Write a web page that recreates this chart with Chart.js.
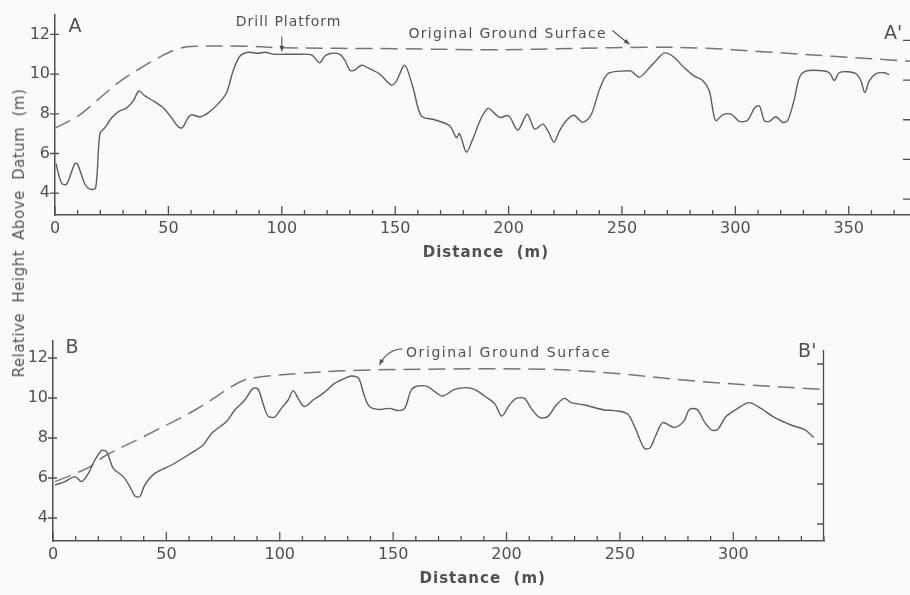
<!DOCTYPE html>
<html>
<head>
  <title>Relative Height Above Datum - Profiles A-A' and B-B'</title>
  <style>
    body{margin:0; background:#fafaf8; width:910px; height:595px; overflow:hidden; position:relative;}
    #chartA{position:absolute; left:0; top:0;}
    #chartB{position:absolute; left:0; top:300px;}
    #yTitle{position:absolute; left:19px; top:233px; transform:translate(-50%,-50%) rotate(-90deg);
            white-space:nowrap; font:15px 'DejaVu Sans'; color:#555; word-spacing:5px; letter-spacing:0.5px;}
  </style>
</head>
<body>
<canvas id="chartA" width="910" height="270"></canvas>
<canvas id="chartB" width="910" height="295"></canvas>
<div id="yTitle">Relative Height Above Datum (m)</div>

<script src="https://cdn.jsdelivr.net/npm/chart.js@4.4.0/dist/chart.umd.min.js"></script>
<script>
// ---------------- data: profile A - A' ----------------
var aDist = [0.4, 2.9, 5.1, 8.8, 10, 13.2, 15.4, 17.9, 19.8, 22, 25, 27.9, 31.6, 34.5, 37, 39.6, 44, 47.7, 51.4, 54.3,
  56.1, 58.7, 60.2, 63.9, 67.5, 71.9, 75.6, 78.5, 81.5, 85.2, 89.6, 92.5, 96.9, 101.3, 107.2, 113.1, 116.7, 118.9, 121.9, 125.6,
  127.8, 130, 132.2, 135.1, 138, 143.2, 148.3, 150.5, 154.2, 157.9, 161.5, 167.4, 174, 177, 178.4, 181.4, 184.3, 188, 190.9, 192.4,
  196, 200, 204.1, 208.2, 211.5, 215.1, 217.3, 220, 222.5, 225.4, 228.8, 232.7, 236.4, 240.1, 243.7, 249.6, 254, 257.7, 261.4, 265.8,
  268.7, 272.4, 277.5, 281.9, 285.6, 288.5, 290.4, 291.5, 294.4, 298.1, 301.8, 305.4, 308.4, 310.6, 312.8, 315, 317.9, 320.8, 323, 326,
  328.2, 331.1, 337, 341.4, 343.6, 345.8, 349.5, 353.2, 355.4, 357.1, 359, 362, 365.6, 367.8];
var aHeight = [5.5, 4.5, 4.45, 5.5, 5.45, 4.45, 4.2, 4.25, 7.0, 7.3, 7.8, 8.1, 8.3, 8.65, 9.15, 8.9, 8.6, 8.3, 7.8, 7.35,
  7.3, 7.8, 7.95, 7.85, 8.05, 8.5, 9.05, 10.15, 10.9, 11.1, 11.05, 11.1, 11.0, 11.0, 11.0, 10.97, 10.57, 10.9, 11.05, 11.0,
  10.7, 10.2, 10.2, 10.45, 10.32, 10.0, 9.45, 9.65, 10.45, 9.3, 7.9, 7.7, 7.4, 6.8, 7.0, 6.07, 6.75, 7.8, 8.28, 8.18,
  7.82, 7.9, 7.18, 7.98, 7.23, 7.48, 7.15, 6.57, 7.15, 7.65, 7.93, 7.57, 7.95, 9.23, 10.02, 10.15, 10.15, 9.85, 10.23, 10.78,
  11.07, 10.9, 10.32, 9.9, 9.68, 9.15, 7.98, 7.65, 7.95, 7.98, 7.62, 7.68, 8.28, 8.4, 7.65, 7.62, 7.85, 7.57, 7.65, 8.73,
  9.82, 10.15, 10.18, 10.07, 9.68, 10.07, 10.12, 10.02, 9.65, 9.07, 9.65, 10.02, 10.07, 9.98];
var aGroundDist = [0, 10.3, 19.1, 27.9, 36.7, 45.5, 54.3, 61.7, 85, 100, 150, 194, 230, 260, 284, 313.5, 342.8, 377];
var aGroundHeight = [7.28, 7.9, 8.73, 9.57, 10.23, 10.82, 11.28, 11.4, 11.4, 11.33, 11.28, 11.23, 11.3, 11.35, 11.32, 11.12, 10.9, 10.65];

// ---------------- data: profile B - B' ----------------
var bDist = [0.9, 5.3, 9.7, 12.6, 15.6, 18.5, 21.4, 23.6, 26.6, 31, 33.9, 36.1, 38.3, 40.5, 44.9, 52.3, 59.6, 66.2, 69.9, 76.5,
  80.2, 84.6, 88.2, 90.4, 92.6, 94.8, 97.8, 100.7, 103.7, 105.9, 108.1, 110.3, 111.7, 114.7, 119.1, 124.2, 128.6, 131.6, 134.8, 137.4,
  139.6, 143.3, 148.5, 152.1, 155.1, 158, 160.9, 165.3, 168.3, 171.9, 177.1, 182.2, 185.9, 190.3, 194.7, 197.9, 201.3, 204.3, 207.9, 210.9,
  214.5, 218.2, 221.9, 225.6, 228.5, 234.4, 243.2, 247.6, 253.4, 257.1, 260.8, 263.4, 265.9, 268.9, 274, 278.4, 280.6, 284, 287.2, 290.4,
  293.1, 296.8, 301.9, 307, 312.2, 318.1, 325.4, 331.3, 335.4];
var bHeight = [5.65, 5.82, 6.07, 5.82, 6.23, 6.9, 7.37, 7.32, 6.48, 6.07, 5.57, 5.1, 5.07, 5.65, 6.23, 6.65, 7.15, 7.65, 8.23, 8.82,
  9.4, 9.9, 10.48, 10.45, 9.73, 9.1, 9.05, 9.48, 9.9, 10.37, 9.98, 9.6, 9.6, 9.9, 10.23, 10.73, 10.98, 11.1, 10.98, 10.07,
  9.57, 9.43, 9.48, 9.37, 9.48, 10.4, 10.6, 10.57, 10.32, 10.1, 10.43, 10.52, 10.43, 10.1, 9.73, 9.1, 9.65, 9.98, 9.98, 9.48,
  9.03, 9.07, 9.65, 9.98, 9.77, 9.65, 9.4, 9.37, 9.2, 8.4, 7.48, 7.52, 8.15, 8.77, 8.53, 8.87, 9.43, 9.43, 8.82, 8.4,
  8.43, 9.07, 9.48, 9.77, 9.48, 9.03, 8.65, 8.43, 8.03];
var bGroundDist = [0.9, 8.2, 15.6, 22.9, 40.5, 62.6, 82.4, 89.7, 108.8, 130.8, 175, 219, 248.3, 277.7, 307, 339.3];
var bGroundHeight = [5.82, 6.15, 6.52, 7.1, 8.1, 9.4, 10.8, 11.03, 11.23, 11.37, 11.45, 11.43, 11.23, 10.9, 10.65, 10.43];

// ---------------- tick labels ----------------
var heightTicks = [4, 6, 8, 10, 12];
var rightTicks = [3.7, 5.7, 7.7, 9.7, 11.7];

// ---------------- look ----------------
var ink = '#505050';
var lineInk = '#5e5e5e';
var dashInk = '#777';
var fam = "'DejaVu Sans', sans-serif";

function pts(xs, ys) {
  return xs.map(function(x, i) { return {x: x, y: ys[i]}; });
}

// -------- draws inward tick marks, right axis, labels, arrows, axis title --------
var decor = {
  id: 'decor',
  afterDraw: function(chart) {
    var o = chart.options.plugins.decor;
    var ctx = chart.ctx, xs = chart.scales.x, ys = chart.scales.y, area = chart.chartArea;
    ctx.save();
    ctx.strokeStyle = ink;
    ctx.lineWidth = 1.3;
    ctx.beginPath();
    xs.ticks.forEach(function(t) {
      if (t.value % 10 !== 0) return;
      var px = xs.getPixelForValue(t.value);
      var len = t.value % 50 === 0 ? 9 : 5;
      ctx.moveTo(px, area.bottom);
      ctx.lineTo(px, area.bottom - len);
    });
    heightTicks.forEach(function(v) {
      var py = ys.getPixelForValue(v);
      ctx.moveTo(area.left - 5, py);
      ctx.lineTo(area.left + 4, py);
    });
    rightTicks.forEach(function(v) {
      var py = ys.getPixelForValue(v);
      ctx.moveTo(area.right, py);
      ctx.lineTo(area.right - 7, py);
    });
    if (o.rightTop) {
      ctx.moveTo(area.right - 0.5, area.bottom);
      ctx.lineTo(area.right - 0.5, ys.getPixelForValue(o.rightTop));
    }
    ctx.stroke();

    ctx.fillStyle = ink;
    ctx.textAlign = 'center';
    ctx.textBaseline = 'middle';
    o.labels.forEach(function(l) {
      ctx.font = (l.weight || '') + ' ' + l.size + 'px ' + fam;
      ctx.letterSpacing = (l.spacing || 0) + 'px';
      ctx.fillText(l.text, xs.getPixelForValue(l.x), ys.getPixelForValue(l.y));
    });

    // axis title under the tick labels
    ctx.font = '600 15px ' + fam;
    ctx.letterSpacing = '1px';
    ctx.fillText('Distance  (m)', xs.getPixelForValue(o.titleX), area.bottom + 38);
    ctx.letterSpacing = '0px';

    ctx.lineWidth = 1.1;
    o.arrows.forEach(function(a) {
      var x0 = xs.getPixelForValue(a.from[0]), y0 = ys.getPixelForValue(a.from[1]);
      var x1 = xs.getPixelForValue(a.to[0]), y1 = ys.getPixelForValue(a.to[1]);
      ctx.beginPath();
      ctx.moveTo(x0, y0);
      var ang;
      if (a.via) {
        var cx = xs.getPixelForValue(a.via[0]), cy = ys.getPixelForValue(a.via[1]);
        ctx.quadraticCurveTo(cx, cy, x1, y1);
        ang = Math.atan2(y1 - cy, x1 - cx);
      } else {
        ctx.lineTo(x1, y1);
        ang = Math.atan2(y1 - y0, x1 - x0);
      }
      ctx.stroke();
      ctx.beginPath();
      ctx.moveTo(x1, y1);
      ctx.lineTo(x1 - 6 * Math.cos(ang - 0.4), y1 - 6 * Math.sin(ang - 0.4));
      ctx.lineTo(x1 - 6 * Math.cos(ang + 0.4), y1 - 6 * Math.sin(ang + 0.4));
      ctx.closePath();
      ctx.fill();
    });
    ctx.restore();
  }
};

function makeChart(id, solid, ground, xMax, yMin, yMax, pad, axisW, axisH, decorOpts) {
  return new Chart(document.getElementById(id), {
    type: 'line',
    data: {
      datasets: [
        {data: solid, borderColor: lineInk, borderWidth: 1.4, pointRadius: 0, tension: 0.3, fill: false},
        {data: ground, borderColor: dashInk, borderWidth: 1.5, borderDash: [17, 8], pointRadius: 0, tension: 0.35, fill: false}
      ]
    },
    options: {
      responsive: false,
      animation: false,
      devicePixelRatio: 1,
      events: [],
      layout: {padding: pad},
      plugins: {legend: {display: false}, tooltip: {enabled: false}, decor: decorOpts},
      scales: {
        x: {
          type: 'linear', min: 0, max: xMax,
          grid: {display: true, drawOnChartArea: false, drawTicks: false},
          border: {display: true, color: ink, width: 1.5},
          ticks: {
            stepSize: 10, autoSkip: false, includeBounds: false, maxRotation: 0, padding: 4,
            color: ink, font: {family: fam, size: 16},
            callback: function(v) { return v % 50 === 0 ? String(v) : ''; }
          },
          afterFit: function(s) { s.height = axisH; }
        },
        y: {
          type: 'linear', min: yMin, max: yMax,
          grid: {display: true, drawOnChartArea: false, drawTicks: false},
          border: {display: true, color: ink, width: 1.5},
          afterBuildTicks: function(s) { s.ticks = heightTicks.map(function(v) { return {value: v}; }); },
          ticks: {padding: 5, color: ink, font: {family: fam, size: 16}},
          afterFit: function(s) { s.width = axisW; }
        }
      }
    },
    plugins: [decor]
  });
}

// ------------------ panel A ------------------
makeChart('chartA', pts(aDist, aHeight), pts(aGroundDist, aGroundHeight), 377, 2.9, 13,
  {top: 13, right: 0, bottom: 0, left: 0}, 55, 55,
  {
    rightTop: null,
    titleX: 190,
    labels: [
      {text: 'A', x: 8.8, y: 12.35, size: 19},
      {text: "A'", x: 369.5, y: 12.0, size: 19},
      {text: 'Drill Platform', x: 103, y: 12.6, size: 14, spacing: 1},
      {text: 'Original Ground Surface', x: 199.6, y: 12.0, size: 14, spacing: 1.3}
    ],
    arrows: [
      {from: [100, 11.9], to: [100, 11.15]},
      {from: [245.8, 12.2], to: [253.3, 11.5]}
    ]
  });

// ------------------ panel B ------------------
makeChart('chartB', pts(bDist, bHeight), pts(bGroundDist, bGroundHeight), 340, 2.85, 12.85,
  {top: 41, right: 86, bottom: 0, left: 0}, 53, 54,
  {
    rightTop: 12.4,
    titleX: 189.5,
    labels: [
      {text: 'B', x: 8.4, y: 12.5, size: 19},
      {text: "B'", x: 332.6, y: 12.3, size: 19},
      {text: 'Original Ground Surface', x: 200.9, y: 12.25, size: 14, spacing: 1.6}
    ],
    arrows: [
      {from: [154.2, 12.45], via: [147.5, 12.45], to: [144, 11.65]}
    ]
  });
</script>
</body>
</html>
